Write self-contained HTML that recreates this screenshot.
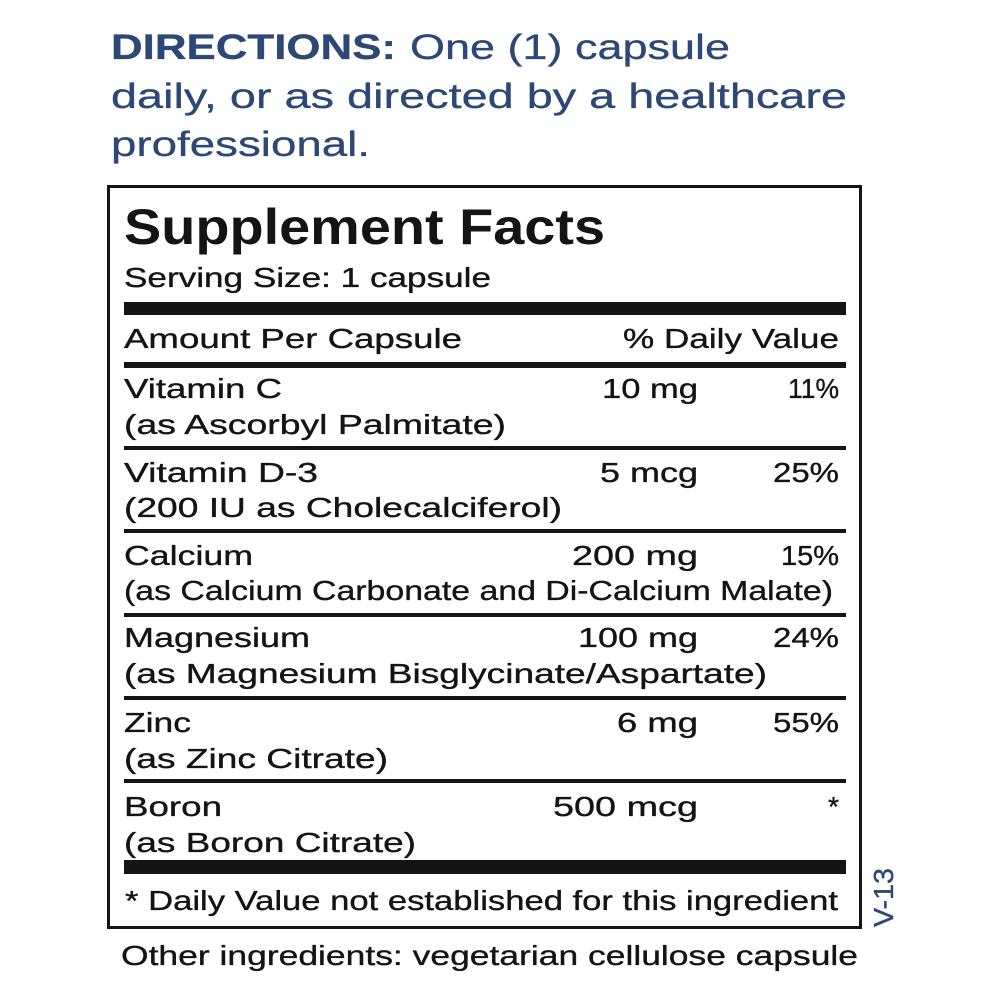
<!DOCTYPE html>
<html>
<head>
<meta charset="utf-8">
<style>
  html, body { margin: 0; padding: 0; background: #ffffff; }
  body { width: 1000px; height: 1000px; overflow: hidden; }
  svg { display: block; }
  .b { font-family: "Liberation Sans", sans-serif; font-size: 28px; fill: #141414; stroke: #141414; stroke-width: 0.35; }
  .d { font-family: "Liberation Sans", sans-serif; font-size: 35px; fill: #2b4876; stroke: #2b4876; stroke-width: 0.3; }
  .t { font-family: "Liberation Sans", sans-serif; font-size: 50px; font-weight: bold; fill: #141414; }
</style>
</head>
<body>
<svg width="1000" height="1000" viewBox="0 0 1000 1000" xmlns="http://www.w3.org/2000/svg">
  <rect x="0" y="0" width="1000" height="1000" fill="#ffffff"/>

  <!-- Directions -->
  <text class="d" x="111" y="59" font-weight="bold" textLength="285" lengthAdjust="spacingAndGlyphs">DIRECTIONS:</text>
  <text class="d" x="410" y="59" textLength="320" lengthAdjust="spacingAndGlyphs">One (1) capsule</text>
  <text class="d" x="111" y="108" textLength="736" lengthAdjust="spacingAndGlyphs">daily, or as directed by a healthcare</text>
  <text class="d" x="111" y="156" textLength="259" lengthAdjust="spacingAndGlyphs">professional.</text>

  <!-- Box -->
  <rect x="108.5" y="186.5" width="752" height="741" fill="none" stroke="#141414" stroke-width="3"/>

  <text class="t" x="124" y="244" style="font-size:50px" textLength="481" lengthAdjust="spacingAndGlyphs">Supplement Facts</text>
  <text class="b" x="124" y="287" textLength="367" lengthAdjust="spacingAndGlyphs">Serving Size: 1 capsule</text>

  <rect x="124" y="302" width="722" height="13" fill="#141414"/>

  <text class="b" x="124" y="348" textLength="338" lengthAdjust="spacingAndGlyphs">Amount Per Capsule</text>
  <text class="b" x="623" y="348" textLength="216" lengthAdjust="spacingAndGlyphs">% Daily Value</text>

  <rect x="124" y="362" width="722" height="6" fill="#141414"/>

  <!-- Row 1 -->
  <text class="b" x="124" y="398" textLength="158" lengthAdjust="spacingAndGlyphs">Vitamin C</text>
  <text class="b" x="602" y="398" textLength="96" lengthAdjust="spacingAndGlyphs">10 mg</text>
  <text class="b" x="788" y="398" textLength="51" lengthAdjust="spacingAndGlyphs">11%</text>
  <text class="b" x="124" y="434" textLength="382" lengthAdjust="spacingAndGlyphs">(as Ascorbyl Palmitate)</text>
  <rect x="124" y="446" width="722" height="4" fill="#141414"/>

  <!-- Row 2 -->
  <text class="b" x="124" y="482" textLength="194" lengthAdjust="spacingAndGlyphs">Vitamin D-3</text>
  <text class="b" x="600" y="482" textLength="98" lengthAdjust="spacingAndGlyphs">5 mcg</text>
  <text class="b" x="773" y="482" textLength="66" lengthAdjust="spacingAndGlyphs">25%</text>
  <text class="b" x="124" y="517" textLength="438" lengthAdjust="spacingAndGlyphs">(200 IU as Cholecalciferol)</text>
  <rect x="124" y="529" width="722" height="4" fill="#141414"/>

  <!-- Row 3 -->
  <text class="b" x="124" y="565" textLength="129" lengthAdjust="spacingAndGlyphs">Calcium</text>
  <text class="b" x="572" y="565" textLength="126" lengthAdjust="spacingAndGlyphs">200 mg</text>
  <text class="b" x="781" y="565" textLength="58" lengthAdjust="spacingAndGlyphs">15%</text>
  <text class="b" x="124" y="600" textLength="709" lengthAdjust="spacingAndGlyphs">(as Calcium Carbonate and Di-Calcium Malate)</text>
  <rect x="124" y="613" width="722" height="4" fill="#141414"/>

  <!-- Row 4 -->
  <text class="b" x="124" y="647" textLength="186" lengthAdjust="spacingAndGlyphs">Magnesium</text>
  <text class="b" x="578" y="647" textLength="120" lengthAdjust="spacingAndGlyphs">100 mg</text>
  <text class="b" x="773" y="647" textLength="66" lengthAdjust="spacingAndGlyphs">24%</text>
  <text class="b" x="124" y="683" textLength="643" lengthAdjust="spacingAndGlyphs">(as Magnesium Bisglycinate/Aspartate)</text>
  <rect x="124" y="696" width="722" height="4" fill="#141414"/>

  <!-- Row 5 -->
  <text class="b" x="124" y="732" textLength="67" lengthAdjust="spacingAndGlyphs">Zinc</text>
  <text class="b" x="617" y="732" textLength="81" lengthAdjust="spacingAndGlyphs">6 mg</text>
  <text class="b" x="773" y="732" textLength="66" lengthAdjust="spacingAndGlyphs">55%</text>
  <text class="b" x="124" y="768" textLength="264" lengthAdjust="spacingAndGlyphs">(as Zinc Citrate)</text>
  <rect x="124" y="779" width="722" height="4" fill="#141414"/>

  <!-- Row 6 -->
  <text class="b" x="124" y="816" textLength="98" lengthAdjust="spacingAndGlyphs">Boron</text>
  <text class="b" x="553" y="816" textLength="145" lengthAdjust="spacingAndGlyphs">500 mcg</text>
  <text class="b" x="828" y="816" textLength="11" lengthAdjust="spacingAndGlyphs">*</text>
  <text class="b" x="124" y="852" textLength="292" lengthAdjust="spacingAndGlyphs">(as Boron Citrate)</text>

  <rect x="124" y="860" width="722" height="14" fill="#141414"/>

  <text class="b" x="125" y="910" textLength="713" lengthAdjust="spacingAndGlyphs">* Daily Value not established for this ingredient</text>

  <!-- V-13 -->
  <text class="b" transform="translate(893,927) rotate(-90)" x="0" y="0" style="fill:#2b4876;stroke:#2b4876" textLength="59" lengthAdjust="spacingAndGlyphs">V-13</text>

  <text class="b" x="121" y="965" textLength="737" lengthAdjust="spacingAndGlyphs">Other ingredients: vegetarian cellulose capsule</text>
</svg>
</body>
</html>
